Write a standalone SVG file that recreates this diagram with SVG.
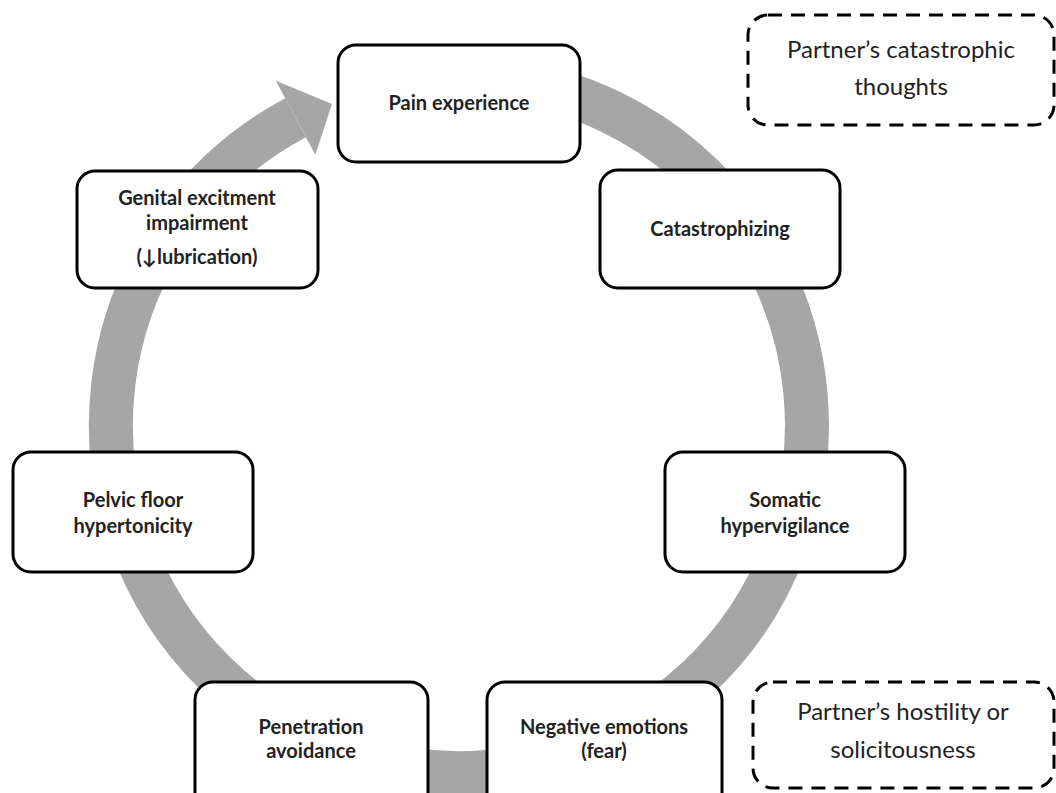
<svg xmlns="http://www.w3.org/2000/svg" width="1056" height="793" viewBox="0 0 1056 793">
<style>
.node rect{fill:#fff;stroke:#000;stroke-width:3}
.dash rect{fill:#fff;stroke:#000;stroke-width:3;stroke-dasharray:14 9}
.t{font-family:Lato,"Liberation Sans",sans-serif;font-weight:bold;font-size:20px;fill:#222;text-anchor:middle}
.d{font-family:Lato,"Liberation Sans",sans-serif;font-size:24px;fill:#222;text-anchor:middle}
.ring{fill:none;stroke:#a6a6a6;stroke-width:44}
</style>
<rect width="1056" height="793" fill="#fff"/>
<g id="connectors">
<path class="ring" d="M459 77 A348 348 0 1 1 295.6 117.7"/>
<polygon points="275.9,80.7 332,104 315.3,154.8" fill="#a6a6a6"/>
</g>
<g id="pain" class="node"><rect x="338" y="45" width="242" height="117" rx="18"/><text class="t" x="459" y="110">Pain experience</text></g>
<g id="catastrophizing" class="node"><rect x="600" y="170" width="240" height="118" rx="18"/><text class="t" x="720" y="236">Catastrophizing</text></g>
<g id="somatic" class="node"><rect x="665" y="452" width="240" height="120" rx="18"/><text class="t" x="785" y="507">Somatic</text><text class="t" x="785" y="533">hypervigilance</text></g>
<g id="negative" class="node"><rect x="487" y="682" width="235" height="130" rx="18"/><text class="t" x="604" y="734">Negative emotions</text><text class="t" x="604" y="758">(fear)</text></g>
<g id="penetration" class="node"><rect x="195" y="682" width="233" height="130" rx="18"/><text class="t" x="311" y="734">Penetration</text><text class="t" x="311" y="758">avoidance</text></g>
<g id="pelvic" class="node"><rect x="13" y="452" width="240" height="120" rx="18"/><text class="t" x="133" y="507">Pelvic floor</text><text class="t" x="133" y="533">hypertonicity</text></g>
<g id="genital" class="node"><rect x="77" y="171" width="241" height="117" rx="18"/><text class="t" x="197" y="205">Genital excitment</text><text class="t" x="197" y="230">impairment</text><text class="t" x="197" y="264">(↓lubrication)</text></g>
<g id="partner-catastrophic" class="dash"><rect x="748" y="15" width="306" height="110" rx="20"/><text class="d" x="901" y="58">Partner’s catastrophic</text><text class="d" x="901" y="95">thoughts</text></g>
<g id="partner-hostility" class="dash"><rect x="753" y="682" width="301" height="106" rx="20"/><text class="d" x="903" y="720">Partner’s hostility or</text><text class="d" x="903" y="758">solicitousness</text></g>
</svg>
